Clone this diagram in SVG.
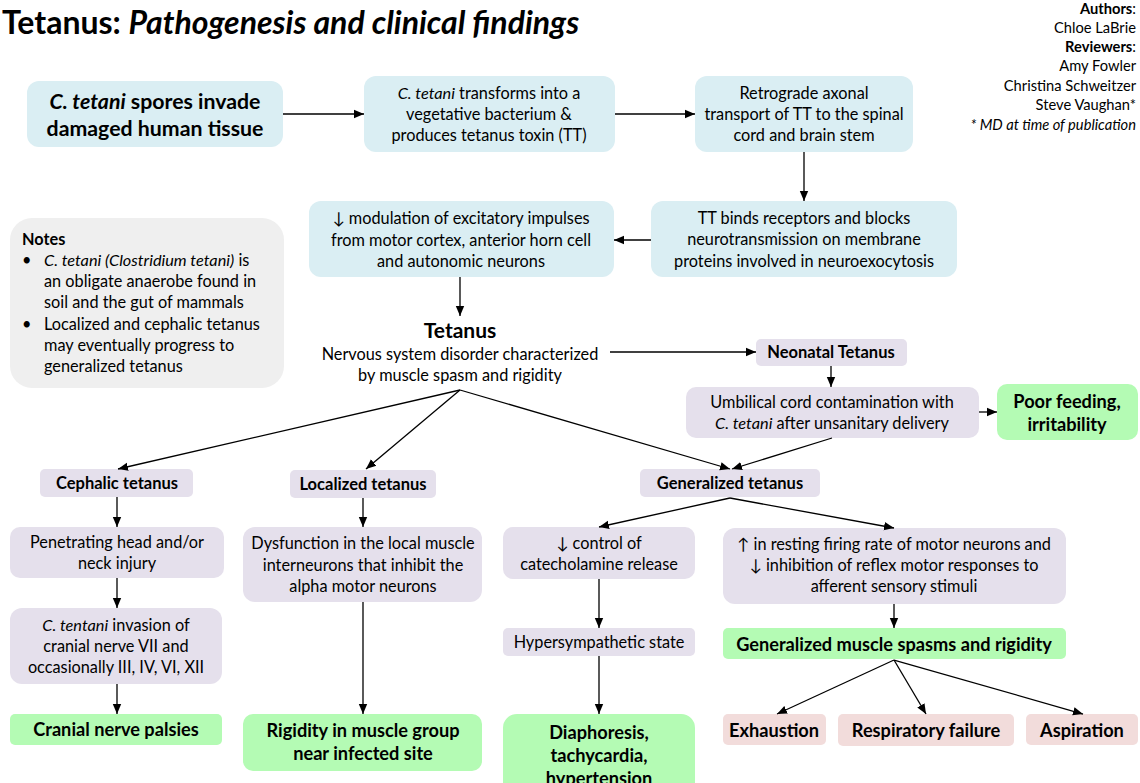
<svg xmlns="http://www.w3.org/2000/svg" width="1140" height="783" viewBox="0 0 1140 783">
<style>
text{font-family:Lato,"Open Sans","Liberation Sans",sans-serif;fill:#000}
.t15{font-size:16.3px;text-anchor:middle}
.b15{font-size:16.5px;font-weight:bold;text-anchor:middle}
.b17{font-size:18.2px;font-weight:bold;text-anchor:middle}
.b19{font-size:21.3px;font-weight:bold;text-anchor:middle}
.n15{font-size:16.3px}
.blue{fill:#daeef3}
.purple{fill:#e5e0ec}
.green{fill:#b4fbb4}
.pink{fill:#f2dcdb}
.auth{font-size:14.7px;text-anchor:end}
.conn path{fill:none;stroke:#000;stroke-width:1.3;marker-end:url(#ah)}
</style>
<defs>
<marker id="ah" markerUnits="userSpaceOnUse" markerWidth="10" markerHeight="10" refX="10" refY="5" orient="auto">
<path d="M0,0.8 L10,5 L0,9.2 z" fill="#000"/>
</marker>
</defs>
<rect width="1140" height="783" fill="#fff"/>

<g id="title">
<text x="2" y="34" style="font-size:32px;font-weight:bold">Tetanus: <tspan font-style="italic">Pathogenesis and clinical findings</tspan></text>
</g>

<g id="authors">
<text class="auth" x="1136" y="14"><tspan font-weight="bold">Authors</tspan>:</text>
<text class="auth" x="1136" y="33">Chloe LaBrie</text>
<text class="auth" x="1136" y="52"><tspan font-weight="bold">Reviewers</tspan>:</text>
<text class="auth" x="1136" y="71">Amy Fowler</text>
<text class="auth" x="1136" y="91">Christina Schweitzer</text>
<text class="auth" x="1136" y="110">Steve Vaughan*</text>
<text class="auth" x="1136" y="130" font-style="italic">* MD at time of publication</text>
</g>

<g id="notes">
<rect x="10" y="218" width="274" height="170" rx="22" fill="#efefef"/>
<text class="n15" x="22" y="245" font-weight="bold">Notes</text>
<text class="n15" x="22" y="266">•</text>
<text class="n15" x="44" y="266"><tspan font-style="italic">C. tetani (Clostridium tetani)</tspan> is</text>
<text class="n15" x="44" y="287">an obligate anaerobe found in</text>
<text class="n15" x="44" y="308">soil and the gut of mammals</text>
<text class="n15" x="22" y="330">•</text>
<text class="n15" x="44" y="330">Localized and cephalic tetanus</text>
<text class="n15" x="44" y="351">may eventually progress to</text>
<text class="n15" x="44" y="372">generalized tetanus</text>
</g>

<g id="spores">
<rect class="blue" x="27" y="81" width="256" height="66" rx="12"/>
<text class="b19" x="155" y="109"><tspan font-style="italic">C. tetani</tspan> spores invade</text>
<text class="b19" x="155" y="136">damaged human tissue</text>
</g>

<g id="transforms">
<rect class="blue" x="364" y="76" width="251" height="76" rx="12"/>
<text class="t15" x="489" y="99"><tspan font-style="italic">C. tetani</tspan> transforms into a</text>
<text class="t15" x="489" y="120">vegetative bacterium &amp;</text>
<text class="t15" x="489" y="141">produces tetanus toxin (TT)</text>
</g>

<g id="retrograde">
<rect class="blue" x="695" y="76" width="218" height="76" rx="12"/>
<text class="t15" x="804" y="99">Retrograde axonal</text>
<text class="t15" x="804" y="120">transport of TT to the spinal</text>
<text class="t15" x="804" y="141">cord and brain stem</text>
</g>

<g id="binds">
<rect class="blue" x="651" y="201" width="306" height="76" rx="12"/>
<text class="t15" x="804" y="224">TT binds receptors and blocks</text>
<text class="t15" x="804" y="245">neurotransmission on membrane</text>
<text class="t15" x="804" y="267">proteins involved in neuroexocytosis</text>
</g>

<g id="modulation">
<rect class="blue" x="309" y="201" width="305" height="76" rx="12"/>
<text class="t15" x="461" y="224">↓ modulation of excitatory impulses</text>
<text class="t15" x="461" y="246">from motor cortex, anterior horn cell</text>
<text class="t15" x="461" y="267">and autonomic neurons</text>
</g>

<g id="tetanus">
<text x="460" y="338" style="font-size:21px;font-weight:bold;text-anchor:middle">Tetanus</text>
<text class="t15" x="460" y="360">Nervous system disorder characterized</text>
<text class="t15" x="460" y="381">by muscle spasm and rigidity</text>
</g>

<g id="neonatal">
<rect class="purple" x="756" y="339" width="151" height="27" rx="5"/>
<text class="b15" x="831" y="358">Neonatal Tetanus</text>
</g>

<g id="umbilical">
<rect class="purple" x="686" y="387" width="293" height="51" rx="10"/>
<text class="t15" x="832" y="408">Umbilical cord contamination with</text>
<text class="t15" x="832" y="429"><tspan font-style="italic">C. tetani</tspan> after unsanitary delivery</text>
</g>

<g id="poorfeeding">
<rect class="green" x="997" y="384" width="141" height="56" rx="10"/>
<text class="b17" x="1067" y="408">Poor feeding,</text>
<text class="b17" x="1067" y="431">irritability</text>
</g>

<g id="cephalic">
<rect class="purple" x="40" y="469" width="153" height="28" rx="5"/>
<text class="b15" x="117" y="489">Cephalic tetanus</text>
</g>

<g id="localized">
<rect class="purple" x="290" y="470" width="146" height="28" rx="5"/>
<text class="b15" x="363" y="490">Localized tetanus</text>
</g>

<g id="generalized">
<rect class="purple" x="640" y="469" width="180" height="28" rx="5"/>
<text class="b15" x="730" y="489">Generalized tetanus</text>
</g>

<g id="penetrating">
<rect class="purple" x="10" y="527" width="214" height="51" rx="10"/>
<text class="t15" x="117" y="548">Penetrating head and/or</text>
<text class="t15" x="117" y="569">neck injury</text>
</g>

<g id="invasion">
<rect class="purple" x="10" y="608" width="212" height="76" rx="12"/>
<text class="t15" x="116" y="631"><tspan font-style="italic">C. tentani</tspan> invasion of</text>
<text class="t15" x="116" y="652">cranial nerve VII and</text>
<text class="t15" x="116" y="673">occasionally III, IV, VI, XII</text>
</g>

<g id="cranial">
<rect class="green" x="10" y="714" width="212" height="31" rx="5"/>
<text class="b17" x="116" y="736">Cranial nerve palsies</text>
</g>

<g id="dysfunction">
<rect class="purple" x="243" y="527" width="239" height="75" rx="12"/>
<text class="t15" x="363" y="549">Dysfunction in the local muscle</text>
<text class="t15" x="363" y="571">interneurons that inhibit the</text>
<text class="t15" x="363" y="592">alpha motor neurons</text>
</g>

<g id="rigidity">
<rect class="green" x="243" y="714" width="239" height="57" rx="10"/>
<text class="b17" x="363" y="737">Rigidity in muscle group</text>
<text class="b17" x="363" y="760">near infected site</text>
</g>

<g id="catecholamine">
<rect class="purple" x="503" y="527" width="192" height="52" rx="10"/>
<text class="t15" x="599" y="549">↓ control of</text>
<text class="t15" x="599" y="570">catecholamine release</text>
</g>

<g id="hypersympathetic">
<rect class="purple" x="503" y="628" width="192" height="28" rx="5"/>
<text class="t15" x="599" y="648">Hypersympathetic state</text>
</g>

<g id="diaphoresis">
<rect class="green" x="503" y="714" width="192" height="90" rx="14"/>
<text class="b17" x="599" y="739">Diaphoresis,</text>
<text class="b17" x="599" y="762">tachycardia,</text>
<text class="b17" x="599" y="785">hypertension</text>
</g>

<g id="firing">
<rect class="purple" x="723" y="528" width="343" height="76" rx="12"/>
<text class="t15" x="894" y="550">↑ in resting firing rate of motor neurons and</text>
<text class="t15" x="894" y="571">↓ inhibition of reflex motor responses to</text>
<text class="t15" x="894" y="592">afferent sensory stimuli</text>
</g>

<g id="spasms">
<rect class="green" x="723" y="628" width="343" height="31" rx="5"/>
<text class="b17" x="894" y="651">Generalized muscle spasms and rigidity</text>
</g>

<g id="exhaustion">
<rect class="pink" x="723" y="714" width="103" height="31" rx="5"/>
<text class="b17" x="774" y="737">Exhaustion</text>
</g>

<g id="respiratory">
<rect class="pink" x="838" y="714" width="176" height="32" rx="5"/>
<text class="b17" x="926" y="737">Respiratory failure</text>
</g>

<g id="aspiration">
<rect class="pink" x="1026" y="714" width="112" height="31" rx="5"/>
<text class="b17" x="1082" y="737">Aspiration</text>
</g>

<g id="connectors" class="conn">
<path d="M283,114 H364"/>
<path d="M615,114 H695"/>
<path d="M804,152 V201"/>
<path d="M651,240 H614"/>
<path d="M460,277 V316"/>
<path d="M610,352 H756"/>
<path d="M831,366 V387"/>
<path d="M979,412 H997"/>
<path d="M460,390 L118,469"/>
<path d="M460,390 L366,469"/>
<path d="M460,390 L730,469"/>
<path d="M832,438 L732,469"/>
<path d="M117,497 V527"/>
<path d="M117,578 V608"/>
<path d="M117,684 V714"/>
<path d="M363,498 V527"/>
<path d="M363,602 V714"/>
<path d="M730,498 L599,527"/>
<path d="M730,498 L894,528"/>
<path d="M599,579 V628"/>
<path d="M599,656 V714"/>
<path d="M894,604 V628"/>
<path d="M894,660 L777,714"/>
<path d="M894,660 L926,714"/>
<path d="M894,660 L1083,714"/>
</g>
</svg>
